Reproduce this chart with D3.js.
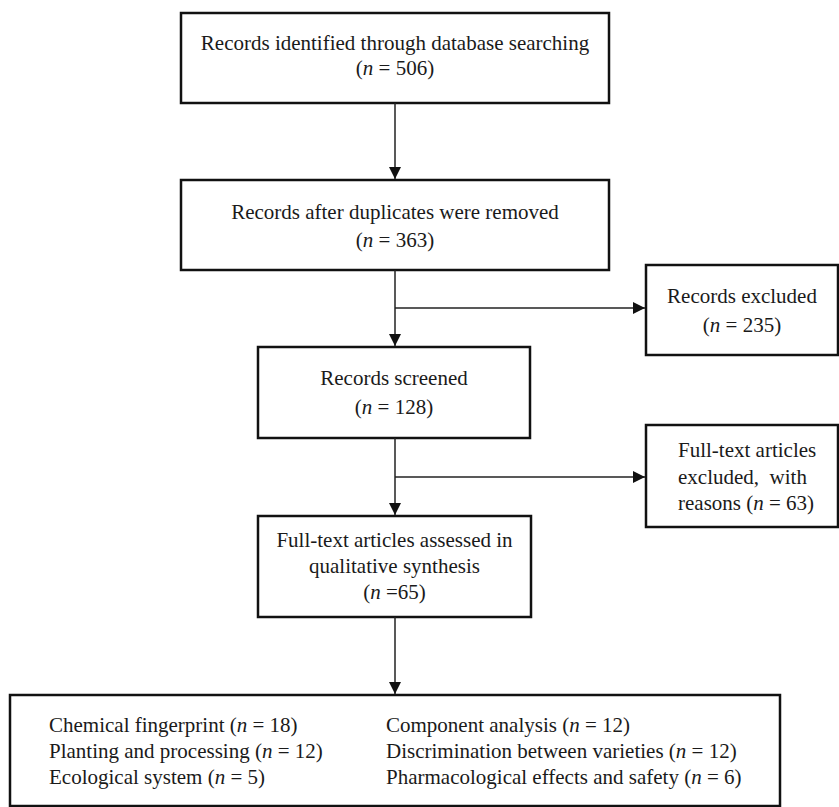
<!DOCTYPE html>
<html>
<head>
<meta charset="utf-8">
<script src="https://cdn.jsdelivr.net/npm/d3@7"></script>
<style>
  body { margin: 0; background: #fff; }
  text { font-family: "Liberation Serif", "Times New Roman", serif; font-size: 21px; fill: #1a1a1a; }
</style>
</head>
<body>
<svg id="flow"></svg>
<script>
// flow stages (main column)
const stageLines = [
    ["Records identified through database searching"],
    ["Records after duplicates were removed"],
    ["Records screened"],
    ["Full-text articles assessed in", "qualitative synthesis"]
];
const stageN = ["= 506", "= 363", "= 128", "=65"];

// side boxes
const excludedLines = [["Records excluded"], ["Full-text articles", "excluded,  with", "reasons "]];
const excludedN = ["= 235", "= 63"];

// final topic breakdown
const topics = ["Chemical fingerprint", "Component analysis",
    "Planting and processing", "Discrimination between varieties",
    "Ecological system", "Pharmacological effects and safety"];
const topicN = [18, 12, 12, 12, 5, 6];

// layout only
const W = 839, H = 807;
const mainBox = [
    {x0: 181, x1: 609, y0: 13, y1: 103, ly: [43, 68]},
    {x0: 181, x1: 609, y0: 180, y1: 270, ly: [212, 240]},
    {x0: 258, x1: 530, y0: 347, y1: 438, ly: [378, 407]},
    {x0: 258, x1: 531, y0: 516, y1: 617, ly: [540, 566, 592]}
];
const sideBox = [
    {x0: 646, x1: 838, y0: 265, y1: 355, ly: [296, 325], branch: 308, align: "middle"},
    {x0: 646, x1: 838, y0: 425, y1: 527, ly: [450, 477, 503], branch: 477, align: "start"}
];
const lastBox = {x0: 10, x1: 780, y0: 695, y1: 806, cols: [49, 386], rows: [725, 751, 777]};
const spineX = 395;

const svg = d3.select("#flow").attr("width", W).attr("height", H);

svg.append("defs").append("marker")
    .attr("id", "arr")
    .attr("viewBox", "0 0 12 12")
    .attr("refX", 12).attr("refY", 6)
    .attr("markerWidth", 12).attr("markerHeight", 12)
    .attr("markerUnits", "userSpaceOnUse")
    .attr("orient", "auto")
    .append("path").attr("d", "M0,0L12,6L0,12Z").attr("fill", "#111");

function drawBox(b) {
    svg.append("rect")
        .attr("x", b.x0).attr("y", b.y0)
        .attr("width", b.x1 - b.x0).attr("height", b.y1 - b.y0)
        .attr("fill", "none").attr("stroke", "#111").attr("stroke-width", 2.5);
}

function addN(t, val) {
    t.append("tspan").text("(");
    t.append("tspan").attr("font-style", "italic").text("n");
    t.append("tspan").text(" " + val + ")");
}

// main stages
mainBox.forEach((b, i) => {
    drawBox(b);
    let cx = (b.x0 + b.x1) / 2;
    let lines = stageLines[i];
    lines.forEach((ln, j) => {
        svg.append("text").attr("x", cx).attr("y", b.ly[j]).attr("dy", "0.35em")
            .attr("text-anchor", "middle").text(ln);
    });
    let t = svg.append("text").attr("x", cx).attr("y", b.ly[lines.length]).attr("dy", "0.35em")
        .attr("text-anchor", "middle");
    addN(t, stageN[i]);
});

// vertical connectors
for (let i = 0; i < mainBox.length - 1; i++) {
    svg.append("line")
        .attr("x1", spineX).attr("x2", spineX)
        .attr("y1", mainBox[i].y1).attr("y2", mainBox[i + 1].y0 - 1)
        .attr("stroke", "#222").attr("stroke-width", 1.5)
        .attr("marker-end", "url(#arr)");
}
svg.append("line")
    .attr("x1", spineX).attr("x2", spineX)
    .attr("y1", mainBox[3].y1).attr("y2", lastBox.y0 - 1)
    .attr("stroke", "#222").attr("stroke-width", 1.5)
    .attr("marker-end", "url(#arr)");

// side boxes + branches
sideBox.forEach((b, i) => {
    drawBox(b);
    svg.append("line")
        .attr("x1", spineX).attr("x2", b.x0 - 1)
        .attr("y1", b.branch).attr("y2", b.branch)
        .attr("stroke", "#222").attr("stroke-width", 1.5)
        .attr("marker-end", "url(#arr)");
    let lines = excludedLines[i];
    let tx = b.align === "middle" ? (b.x0 + b.x1) / 2 : 678;
    if (b.align === "middle") {
        svg.append("text").attr("x", tx).attr("y", b.ly[0]).attr("dy", "0.35em")
            .attr("text-anchor", "middle").text(lines[0]);
        let t = svg.append("text").attr("x", tx).attr("y", b.ly[1]).attr("dy", "0.35em")
            .attr("text-anchor", "middle");
        addN(t, excludedN[i]);
    } else {
        lines.forEach((ln, j) => {
            let t = svg.append("text").attr("x", tx).attr("y", b.ly[j]).attr("dy", "0.35em")
                .attr("text-anchor", "start").style("white-space", "pre").text(ln);
            if (j === lines.length - 1) addN(t, excludedN[i]);
        });
    }
});

// last box
drawBox(lastBox);
topics.forEach((tp, i) => {
    let t = svg.append("text")
        .attr("x", lastBox.cols[i % 2])
        .attr("y", lastBox.rows[Math.floor(i / 2)])
        .attr("dy", "0.35em")
        .text(tp + " ");
    addN(t, "= " + topicN[i]);
});
</script>
</body>
</html>
